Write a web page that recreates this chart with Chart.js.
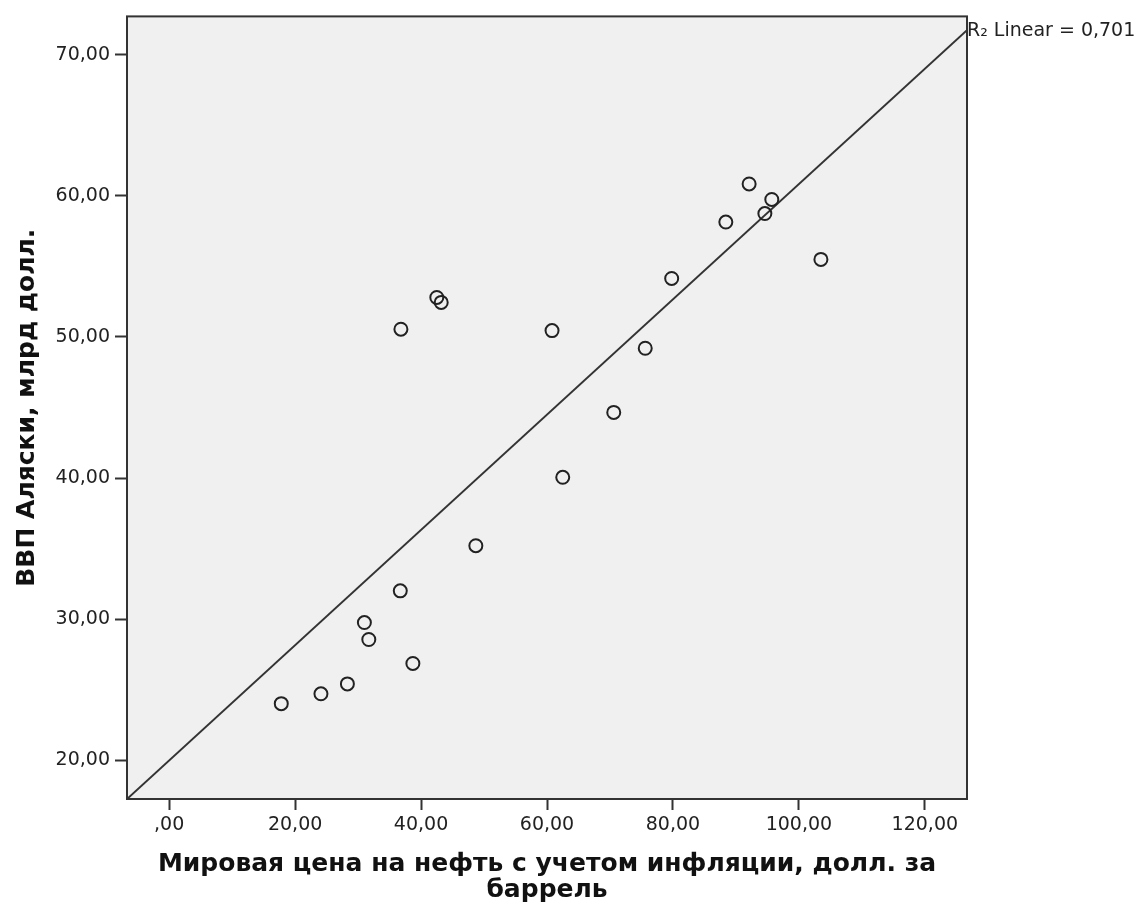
<!DOCTYPE html>
<html>
<head>
<meta charset="utf-8">
<script src="https://cdn.jsdelivr.net/npm/chart.js@4.4.1/dist/chart.umd.min.js"></script>
<style>
  html, body { margin: 0; padding: 0; background: #fff; }
  #wrap { width: 1147px; height: 907px; }
</style>
</head>
<body>
<div id="wrap"><canvas id="chart" width="1147" height="907"></canvas></div>
<script>
// Oil price (inflation adjusted) vs Alaska GDP
const oilPrice = [17.8, 24.1, 28.3, 31.0, 31.7, 36.7, 38.7, 36.8, 42.5, 43.2, 48.7,
                  60.8, 62.5, 70.6, 75.6, 79.8, 88.4, 92.1, 94.6, 95.7, 103.5];
const gdpAlaska = [24.0, 24.7, 25.4, 29.75, 28.55, 32.0, 26.85, 50.55, 52.8, 52.45, 35.2,
                   50.45, 40.05, 44.65, 49.2, 54.15, 58.15, 60.85, 58.75, 59.75, 55.5];

// fit line end points (linear, R2 = 0,701)
const fitX = [-6.7, 126.7];
const fitY = [17.24, 71.75];
const fitLabel = 'R\u2082 Linear = 0,701';

const xTicks = [0, 20, 40, 60, 80, 100, 120];
const yTicks = [20, 30, 40, 50, 60, 70];

const xTitle = ['Мировая цена на нефть с учетом инфляции, долл. за', 'баррель'];
const yTitle = 'ВВП Аляски, млрд долл.';

function fmt(v) {
    if (v === 0) return ',00';
    return v.toFixed(2).replace('.', ',');
}

// grey plot area + frame + fit label
const framePlugin = {
    id: 'frame',
    beforeDatasetsDraw(chart) {
        const a = chart.chartArea;
        const ctx = chart.ctx;
        ctx.save();
        ctx.fillStyle = '#f0f0f0';
        ctx.fillRect(a.left, a.top, a.right - a.left, a.bottom - a.top);
        ctx.restore();
    },
    afterDraw(chart) {
        const a = chart.chartArea;
        const ctx = chart.ctx;
        ctx.save();
        ctx.strokeStyle = '#333';
        ctx.lineWidth = 2;
        ctx.strokeRect(a.left, a.top, a.right - a.left, a.bottom - a.top);
        ctx.fillStyle = '#222';
        ctx.font = '19px "DejaVu Sans"';
        ctx.textBaseline = 'middle';
        ctx.textAlign = 'left';
        ctx.fillText(fitLabel, a.right, 31);
        ctx.restore();
    }
};

const ctx = document.getElementById('chart').getContext('2d');
const chart = new Chart(ctx, {
    type: 'scatter',
    data: {
        datasets: [{
            label: 'points',
            data: oilPrice.map((x, i) => ({ x: x, y: gdpAlaska[i] })),
            pointRadius: 6.5,
            pointHoverRadius: 6.5,
            pointBorderWidth: 2,
            pointBorderColor: '#222',
            pointBackgroundColor: 'rgba(0,0,0,0)'
        }, {
            type: 'line',
            label: 'fit',
            data: fitX.map((x, i) => ({ x: x, y: fitY[i] })),
            borderColor: '#333',
            borderWidth: 2,
            pointRadius: 0,
            fill: false
        }]
    },
    options: {
        responsive: false,
        animation: false,
        layout: { padding: { left: 0, top: 14, right: 180, bottom: 0 } },
        plugins: {
            legend: { display: false },
            tooltip: { enabled: false }
        },
        scales: {
            x: {
                type: 'linear',
                min: -6.7,
                max: 126.7,
                afterBuildTicks: s => { s.ticks = xTicks.map(v => ({ value: v })); },
                afterFit: s => { s.height = 108; },
                border: { display: false },
                grid: { drawOnChartArea: false, tickLength: 11, tickWidth: 2, tickColor: '#333' },
                ticks: {
                    padding: 4,
                    color: '#222',
                    font: { family: 'DejaVu Sans', size: 19 },
                    callback: v => fmt(v)
                },
                title: {
                    display: true,
                    text: xTitle,
                    color: '#111',
                    padding: { top: 0, bottom: 3 },
                    font: { family: 'DejaVu Sans', size: 25, weight: 'bold', lineHeight: 1.06 }
                }
            },
            y: {
                type: 'linear',
                min: 17.24,
                max: 72.73,
                afterBuildTicks: s => { s.ticks = yTicks.map(v => ({ value: v })); },
                afterFit: s => { s.width = 127; },
                border: { display: false },
                grid: { drawOnChartArea: false, tickLength: 12, tickWidth: 2, tickColor: '#333' },
                ticks: {
                    padding: 5,
                    color: '#222',
                    font: { family: 'DejaVu Sans', size: 19 },
                    callback: v => fmt(v)
                },
                title: {
                    display: true,
                    text: yTitle,
                    color: '#111',
                    padding: { top: 12, bottom: 0 },
                    font: { family: 'DejaVu Sans', size: 25, weight: 'bold', lineHeight: 1.2 }
                }
            }
        }
    },
    plugins: [framePlugin]
});
</script>
</body>
</html>
